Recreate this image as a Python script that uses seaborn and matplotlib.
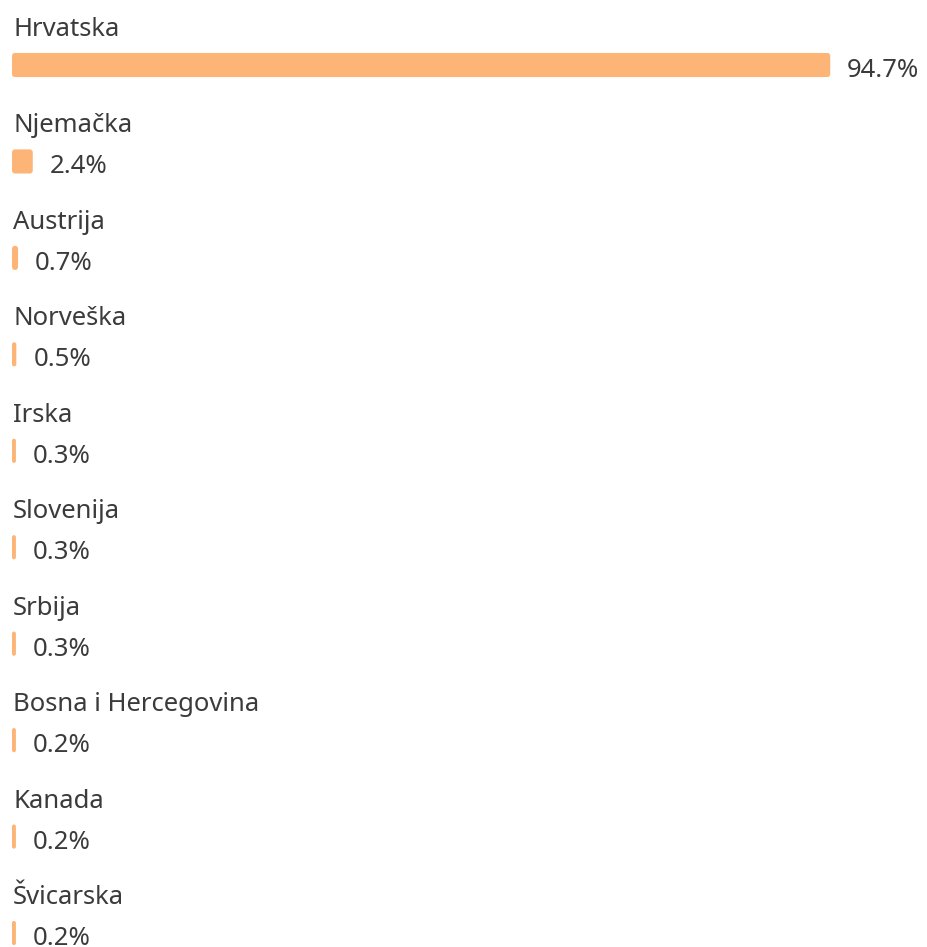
import pandas as pd
import matplotlib
matplotlib.use("Agg")
import matplotlib.pyplot as plt
import seaborn as sns
from matplotlib.patches import FancyBboxPatch

# -----------------------------
# Data
# -----------------------------
countries = ["Hrvatska", "Njemačka", "Austrija", "Norveška", "Irska",
             "Slovenija", "Srbija", "Bosna i Hercegovina", "Kanada", "Švicarska"]
shares = [94.7, 2.4, 0.7, 0.5, 0.3, 0.3, 0.3, 0.2, 0.2, 0.2]

df = pd.DataFrame({"country": countries, "share": shares})

BAR_COLOR = "#fdb477"
TEXT_COLOR = "#3b3b3b"
MIN_BAR = 0.45      # thinnest bar drawn, in % units

sns.set_theme(style="white")
plt.rcParams["font.family"] = ["Noto Sans", "DejaVu Sans"]

fig = plt.figure(figsize=(9.27, 9.47), dpi=100)
ax = fig.add_axes([0, 0, 1, 1])

sns.barplot(data=df, x="share", y="country", color=BAR_COLOR,
            width=0.25, ax=ax, saturation=1)

ax.set_xlim(-1.39, 105.9)
ax.set_ylim(9.145, -0.674)

# px per unit, used to round the bar corners evenly
px_x = 927 / (105.9 + 1.39)
px_y = 947 / (9.145 + 0.674)
aspect = px_x / px_y

for p in list(ax.patches):
    x0, y0 = p.get_x(), p.get_y()
    w = max(p.get_width(), MIN_BAR)
    h = p.get_height()
    r = min(3 / px_x, w / 2)
    box = FancyBboxPatch((x0, y0), w, h,
                         boxstyle=f"round,pad=0,rounding_size={r}",
                         mutation_aspect=aspect,
                         facecolor=BAR_COLOR, edgecolor="none")
    p.remove()
    ax.add_patch(box)

for i, (name, val) in enumerate(zip(countries, shares)):
    ax.annotate(name, xy=(0, i), xytext=(1, 29), textcoords="offset pixels",
                ha="left", va="baseline", fontsize=18.5, color=TEXT_COLOR)
    ax.annotate(f"{val}%", xy=(max(val, MIN_BAR), i), xytext=(17, -12),
                textcoords="offset pixels", ha="left", va="baseline",
                fontsize=18.5, color=TEXT_COLOR)

ax.axis("off")
fig.savefig("out.png", dpi=100)
